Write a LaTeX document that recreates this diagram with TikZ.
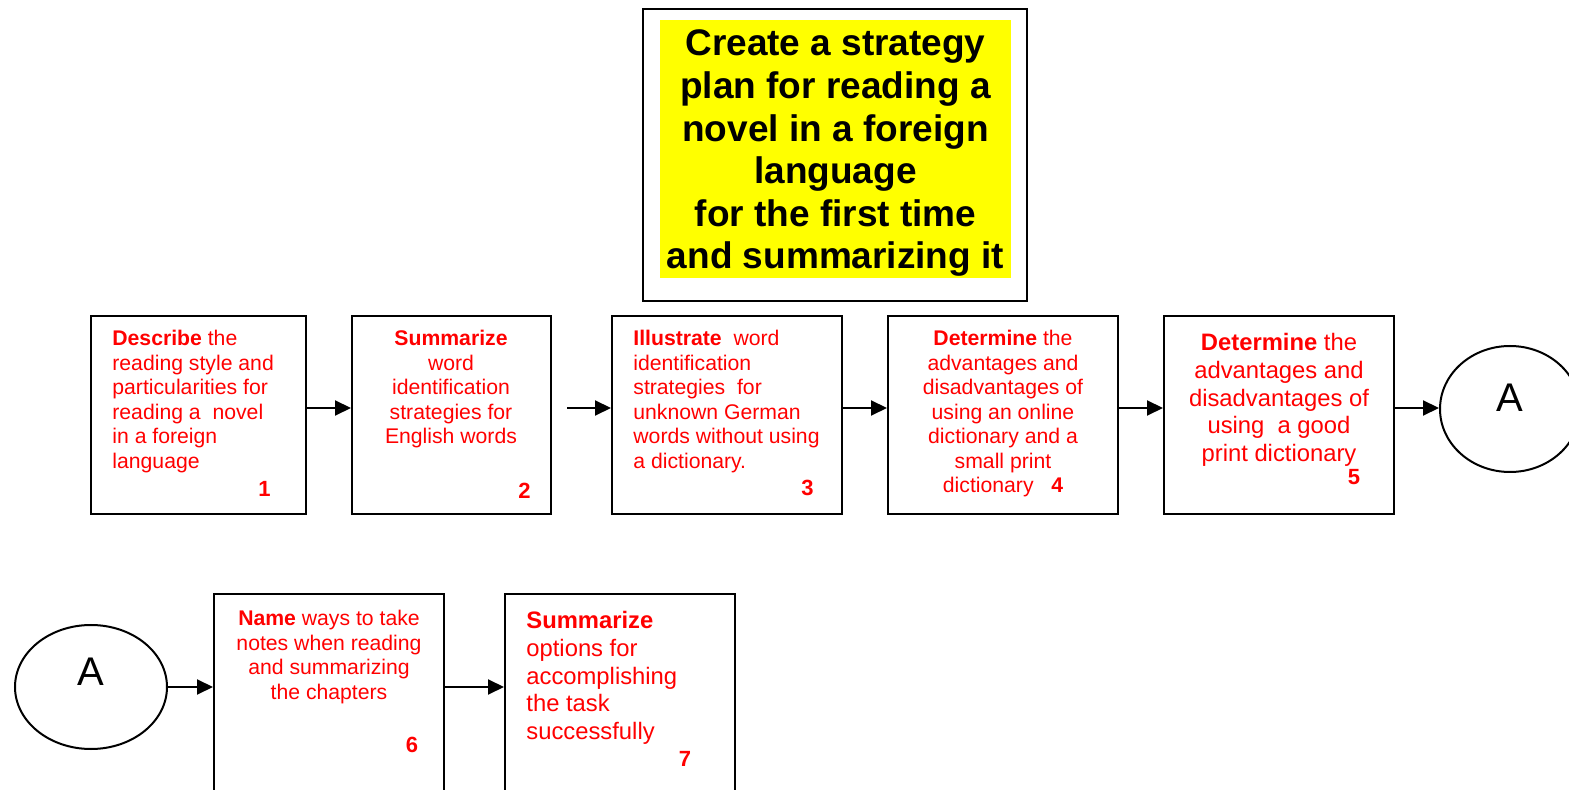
\documentclass[tikz,border=0pt]{standalone}
\usepackage{fontspec}
\setmainfont{Liberation Sans}
\usetikzlibrary{arrows.meta,positioning,shapes.geometric}

\definecolor{titleyellow}{RGB}{255,255,0}
\definecolor{stepred}{RGB}{255,0,0}

\tikzset{
  stepbox/.style={draw, line width=1pt, inner sep=0pt},
  connect/.style={draw, line width=1pt, ellipse, inner sep=0pt, minimum width=70pt, minimum height=63pt, font=\fontsize{20}{24}\selectfont},
  flow/.style={line width=1pt, -{Triangle[length=8pt,width=7.5pt]}},
  steptext/.style={text=stepred, inner sep=0pt, font=\fontsize{10.6}{12.25}\selectfont},
  bigtext/.style={text=stepred, inner sep=0pt, font=\fontsize{11.9}{13.85}\selectfont},
  stepno/.style={text=stepred, inner sep=0pt, font=\bfseries\fontsize{11}{13}\selectfont},
}

\begin{document}
\begin{tikzpicture}[x=0.5pt, y=-0.5pt]
  \clip (0,0) rectangle (1569,790);

  % Title
  \node[draw, line width=1pt, minimum width=192pt, minimum height=146pt] (frame) at (835,155) {};
  \fill[titleyellow] (660,20) rectangle (1011,278);
  \node[inner sep=0pt, align=center, font=\bfseries\fontsize{18.5}{21.3}\selectfont] (title) at (835.5,153.5)
    {Create a strategy\\plan for reading a\\novel in a foreign\\language\\for the first time\\and summarizing it};

  % first row of steps
  \node[stepbox, minimum width=107.5pt, minimum height=99pt] (b1) at (198.5,415) {};
  \node[stepbox, minimum width=99.5pt, minimum height=99pt] (b2) at (451.5,415) {};
  \node[stepbox, minimum width=115pt, minimum height=99pt] (b3) at (727,415) {};
  \node[stepbox, minimum width=115pt, minimum height=99pt] (b4) at (1003,415) {};
  \node[stepbox, minimum width=115pt, minimum height=99pt] (b5) at (1279,415) {};
  \node[connect, text depth=11.5pt] (aR) at (1510,409) {A};

  \node[steptext, anchor=north west, align=left] (t1) at (112,330)
    {\textbf{Describe} the\\reading style and\\particularities for\\reading a~ novel\\in a foreign\\language};
  \node[steptext, anchor=north, align=center] (t2) at (451,330)
    {\textbf{Summarize}\\word\\identification\\strategies for\\English words};
  \node[steptext, anchor=north west, align=left] (t3) at (633,330)
    {\textbf{Illustrate}~ word\\identification\\strategies~ for\\unknown German\\words without using\\a dictionary.};
  \node[steptext, anchor=north, align=center] (t4) at (1003,330)
    {\textbf{Determine} the\\advantages and\\disadvantages of\\using an online\\dictionary and a\\small print\\dictionary~~~\textbf{4}};
  \node[bigtext, anchor=north, align=center] (t5) at (1279,333)
    {\textbf{Determine} the\\advantages and\\disadvantages of\\using~ a good\\print dictionary};

  \node[stepno] (n1) at (264.5,488.5) {1};
  \node[stepno] (n2) at (524.5,491) {2};
  \node[stepno] (n3) at (807.5,488) {3};
  \node[stepno] (n5) at (1354,477.5) {5};

  \draw[flow] ([yshift=3.5pt]b1.east) -- ([yshift=3.5pt]b2.west);
  \draw[flow, shorten <=7.5pt] ([yshift=3.5pt]b2.east) -- ([yshift=3.5pt]b3.west);
  \draw[flow] ([yshift=3.5pt]b3.east) -- ([yshift=3.5pt]b4.west);
  \draw[flow] ([yshift=3.5pt]b4.east) -- ([yshift=3.5pt]b5.west);
  \draw[flow] ([yshift=3.5pt]b5.east) -- ([yshift=3.5pt]b5.east -| aR.west);

  % second row
  \node[connect, minimum width=76pt, minimum height=62pt, text depth=15pt] (aL) at (91,687) {A};
  \node[stepbox, minimum width=115pt, minimum height=110pt] (b6) at (329,704) {};
  \node[stepbox, minimum width=115pt, minimum height=110pt] (b7) at (620,704) {};

  \node[steptext, anchor=north, align=center] (t6) at (329,610)
    {\textbf{Name} ways to take\\notes when reading\\and summarizing\\the chapters};
  \node[bigtext, anchor=north west, align=left] (t7) at (526,611)
    {\textbf{Summarize}\\options for\\accomplishing\\the task\\successfully};

  \node[stepno] (n6) at (412,745) {6};
  \node[stepno] (n7) at (685,759) {7};

  \draw[flow] (aL.east) -- (aL.east -| b6.west);
  \draw[flow] ([yshift=8.5pt]b6.east) -- ([yshift=8.5pt]b7.west);
\end{tikzpicture}
\end{document}
